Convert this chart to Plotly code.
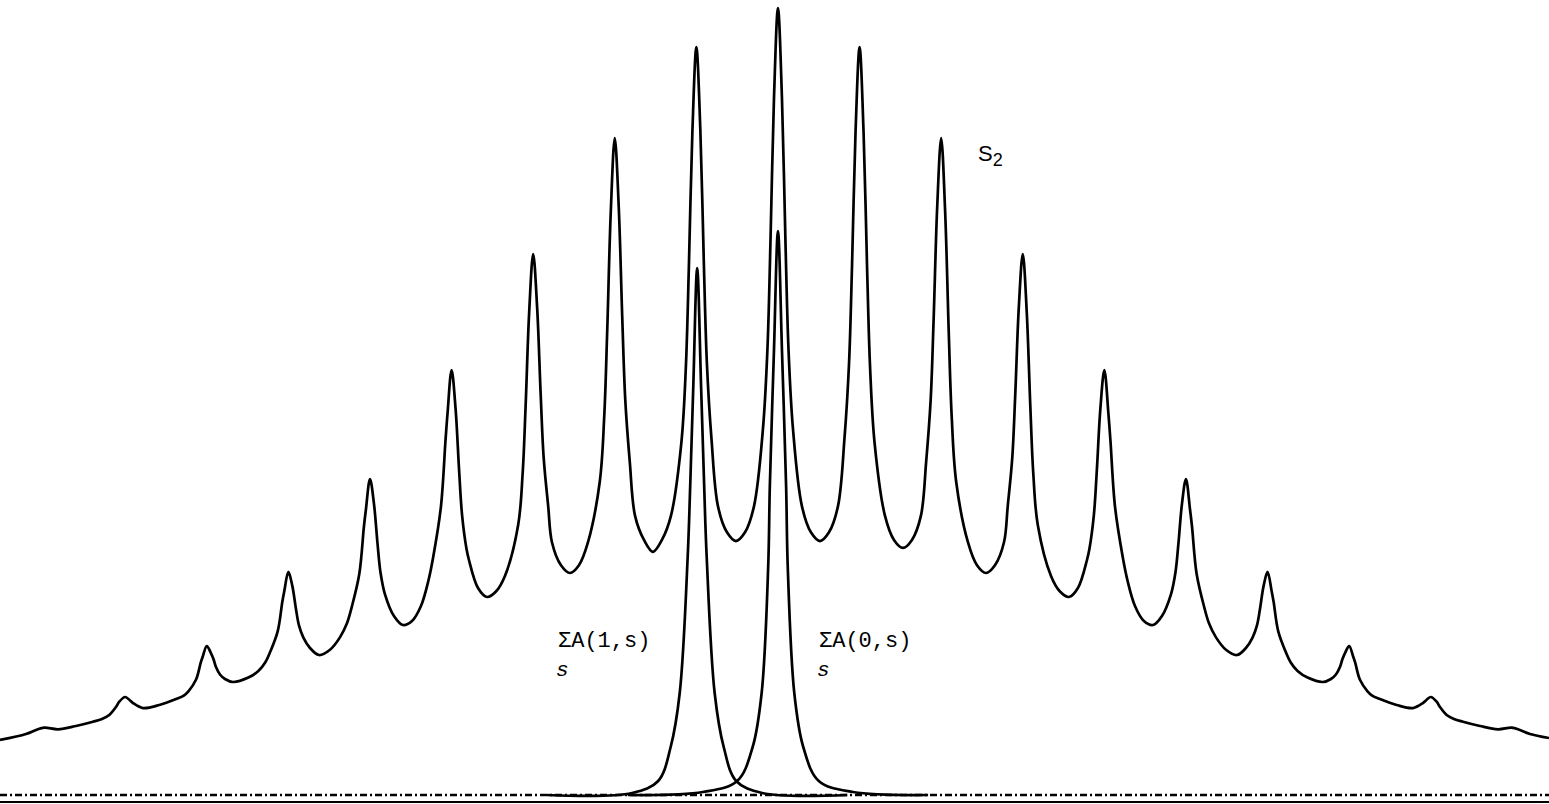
import plotly.graph_objects as go

# Frequency in units of the line spacing; intensity in % of the central S2 maximum.
s2_left_x = [
    -9.534, -9.216, -9.093, -8.991, -8.824, -8.603, -8.395, -8.284, -8.195, -8.113, -8.072, -8.000, -7.953, -7.904,
    -7.782, -7.582, -7.377, -7.282, -7.225, -7.131, -7.074, -7.049,
    -7.000, -6.955, -6.918, -6.887, -6.838, -6.777, -6.679, -6.490, -6.368, -6.282, -6.225, -6.131, -6.074, -6.049,
    -6.000, -5.951, -5.908, -5.871, -5.816, -5.735, -5.625, -5.490, -5.368, -5.282, -5.225, -5.131, -5.074, -5.049,
    -5.000, -4.951, -4.908, -4.871, -4.816, -4.706, -4.596, -4.485, -4.375, -4.282, -4.225, -4.131, -4.074, -4.049,
    -4.000, -3.951, -3.908, -3.871, -3.816, -3.787, -3.676, -3.566, -3.456, -3.346, -3.184, -3.129, -3.092, -3.049,
    -3.000, -2.951, -2.908, -2.871, -2.816, -2.770, -2.659, -2.549, -2.439, -2.328, -2.184, -2.129, -2.092, -2.049,
    -2.000, -1.951, -1.908, -1.871, -1.816, -1.752, -1.642, -1.532, -1.422, -1.311, -1.184, -1.129, -1.092, -1.049,
    -1.000, -0.951, -0.908, -0.871, -0.816, -0.735, -0.625, -0.515, -0.404, -0.294, -0.184, -0.129, -0.092, -0.049,
]
s2_left_y = [
    6.99, 7.75, 8.26, 8.55, 8.35, 8.77, 9.31, 9.66, 10.17, 11.18, 11.86, 12.45, 12.13, 11.69,
    11.05, 11.44, 12.20, 12.64, 13.18, 14.68, 16.81, 17.60,
    18.93, 18.17, 17.28, 16.26, 15.31, 14.74, 14.36, 14.92, 15.76, 16.87, 18.13, 20.79, 24.56, 25.96,
    28.34, 26.54, 23.70, 21.59, 20.00, 18.68, 17.79, 18.46, 20.03, 21.82, 23.82, 28.08, 34.12, 36.34,
    40.15, 37.00, 32.00, 28.28, 25.50, 22.74, 21.60, 22.11, 24.02, 27.32, 30.24, 36.59, 45.11, 48.54,
    54.00, 49.10, 41.31, 35.54, 31.22, 29.86, 26.30, 25.16, 25.86, 27.83, 34.31, 40.85, 49.57, 61.33,
    68.74, 61.86, 50.90, 42.80, 36.72, 32.12, 29.19, 28.21, 29.19, 32.12, 39.81, 48.11, 59.16, 74.08,
    83.48, 74.62, 60.56, 50.14, 42.33, 35.50, 32.41, 30.90, 32.41, 35.50, 44.75, 54.31, 67.04, 84.22,
    95.04, 84.37, 67.42, 54.87, 45.45, 36.68, 33.38, 32.27, 33.38, 36.68, 46.51, 56.67, 70.20, 88.49,
]
s2_right_x = [
    0.000, 0.049, 0.092, 0.129, 0.184, 0.294, 0.404, 0.515, 0.625, 0.735, 0.816, 0.871, 0.908, 0.951, 1.000,
    1.049, 1.092, 1.129, 1.184, 1.311, 1.422, 1.532, 1.642, 1.752, 1.816, 1.871, 1.908, 1.951, 2.000,
    2.049, 2.092, 2.129, 2.184, 2.328, 2.439, 2.549, 2.659, 2.770, 2.816, 2.871, 2.908, 2.951, 3.000,
    3.049, 3.092, 3.129, 3.184, 3.346, 3.456, 3.566, 3.676, 3.787, 3.816, 3.871, 3.908, 3.951, 4.000,
    4.049, 4.074, 4.131, 4.225, 4.282, 4.375, 4.485, 4.596, 4.706, 4.816, 4.871, 4.908, 4.951, 5.000,
    5.049, 5.074, 5.131, 5.225, 5.282, 5.368, 5.490, 5.625, 5.735, 5.816, 5.871, 5.908, 5.951, 6.000,
    6.049, 6.074, 6.131, 6.225, 6.282, 6.368, 6.490, 6.679, 6.777, 6.838, 6.887, 6.918, 6.955, 7.000,
    7.049, 7.074, 7.131, 7.225, 7.282, 7.377, 7.582, 7.782,
    7.904, 7.953, 8.000, 8.072, 8.113, 8.195, 8.284, 8.395, 8.603, 8.824, 8.991, 9.093, 9.216, 9.449,
]
s2_right_y = [
    100.00, 88.49, 70.20, 56.67, 46.51, 36.68, 33.38, 32.27, 33.38, 36.68, 45.45, 54.87, 67.42, 84.37, 95.04,
    84.22, 67.04, 54.31, 44.75, 35.50, 32.41, 31.39, 32.41, 35.50, 42.33, 50.14, 60.56, 74.62, 83.48,
    74.08, 59.16, 48.11, 39.81, 32.12, 29.19, 28.21, 29.19, 32.12, 36.72, 42.80, 50.90, 61.86, 68.74,
    61.33, 49.57, 40.85, 34.31, 27.83, 25.86, 25.16, 26.30, 29.86, 31.22, 35.54, 41.31, 49.10, 54.00,
    48.54, 45.11, 36.59, 30.24, 27.32, 24.02, 22.11, 21.60, 22.74, 25.50, 28.28, 32.00, 37.00, 40.15,
    36.34, 34.12, 28.08, 23.82, 21.82, 20.03, 18.46, 17.79, 18.68, 20.00, 21.59, 23.70, 26.54, 28.34,
    25.96, 24.56, 20.79, 18.13, 16.87, 15.76, 14.92, 14.36, 14.74, 15.31, 16.26, 17.28, 18.17, 18.93,
    17.60, 16.81, 14.68, 13.18, 12.64, 12.20, 11.44, 11.05,
    11.69, 12.13, 12.45, 11.86, 11.18, 10.17, 9.66, 9.31, 8.77, 8.35, 8.55, 8.26, 7.75, 7.24,
]

a0_x = [-1.84, -0.92, -0.50, -0.31, -0.20, -0.12, -0.10, -0.05, 0.00,
        0.05, 0.10, 0.12, 0.20, 0.31, 0.50, 0.92, 1.84]
a0_y = [0.0, 0.38, 1.78, 6.10, 12.96, 28.97, 39.14, 56.16, 71.66,
        56.16, 39.14, 28.97, 12.96, 6.10, 1.78, 0.38, 0.0]

a1_x = [-2.83, -1.787, -1.468, -1.315, -1.204, -1.106, -1.076, -1.038, -0.99,
        -0.942, -0.904, -0.874, -0.776, -0.665, -0.512, -0.193, 0.85]
a1_y = [0.0, 0.25, 1.78, 6.10, 12.96, 30.37, 39.14, 51.84, 66.96,
        51.84, 39.14, 30.37, 12.96, 6.10, 1.78, 0.25, 0.0]

baseline_x = [-9.534, 9.449]
baseline_y = [0.0, 0.0]

x_range = [-9.534, 9.449]
y_range = [-0.762, 101.02]

s2_x = s2_left_x + s2_right_x
s2_y = s2_left_y + s2_right_y

line_style = dict(color="black", width=2.7, shape="spline", smoothing=1.0)

fig = go.Figure()
fig.add_trace(go.Scatter(x=baseline_x, y=baseline_y, mode="lines",
                         line=dict(color="black", width=2.4, dash="7px,3px,2px,3px"),
                         hoverinfo="skip", showlegend=False))
fig.add_trace(go.Scatter(x=a1_x, y=a1_y, mode="lines", line=line_style,
                         name="ΣA(1,s)", showlegend=False))
fig.add_trace(go.Scatter(x=a0_x, y=a0_y, mode="lines", line=line_style,
                         name="ΣA(0,s)", showlegend=False))
fig.add_trace(go.Scatter(x=s2_x, y=s2_y, mode="lines", line=line_style,
                         name="S2", showlegend=False))

mono = dict(family="Liberation Mono, Courier New, monospace", size=22, color="black")
sub_s = dict(family="Liberation Mono, monospace", size=21, color="black")
fig.add_annotation(x=2.426, y=81.3, xref="x", yref="y",
                   text="S<sub><span style='font-size:18px'>2</span></sub>",
                   showarrow=False, xanchor="left", yanchor="middle",
                   font=dict(family="Liberation Sans, Arial, sans-serif", size=22, color="black"))
fig.add_annotation(x=-2.72, y=17.66, xref="x", yref="y", text="ΣA(1,s)",
                   showarrow=False, xanchor="left", yanchor="bottom", font=mono)
fig.add_annotation(x=-2.641, y=17.6, xref="x", yref="y", text="<i>s</i>",
                   showarrow=False, xanchor="center", yanchor="top", font=sub_s)
fig.add_annotation(x=0.478, y=17.66, xref="x", yref="y", text="ΣA(0,s)",
                   showarrow=False, xanchor="left", yanchor="bottom", font=mono)
fig.add_annotation(x=0.564, y=17.6, xref="x", yref="y", text="<i>s</i>",
                   showarrow=False, xanchor="center", yanchor="top", font=sub_s)

fig.update_xaxes(range=x_range, showgrid=False, zeroline=False, showticklabels=False,
                 ticks="", showline=True, linecolor="black", linewidth=2, mirror=False)
fig.update_yaxes(range=y_range, showgrid=False, zeroline=False, showticklabels=False,
                 ticks="", showline=False)
fig.update_layout(width=1549, height=804, paper_bgcolor="white", plot_bgcolor="white",
                  margin=dict(l=0, r=0, t=0, b=3, autoexpand=False), showlegend=False)

fig.write_html("out.html")
